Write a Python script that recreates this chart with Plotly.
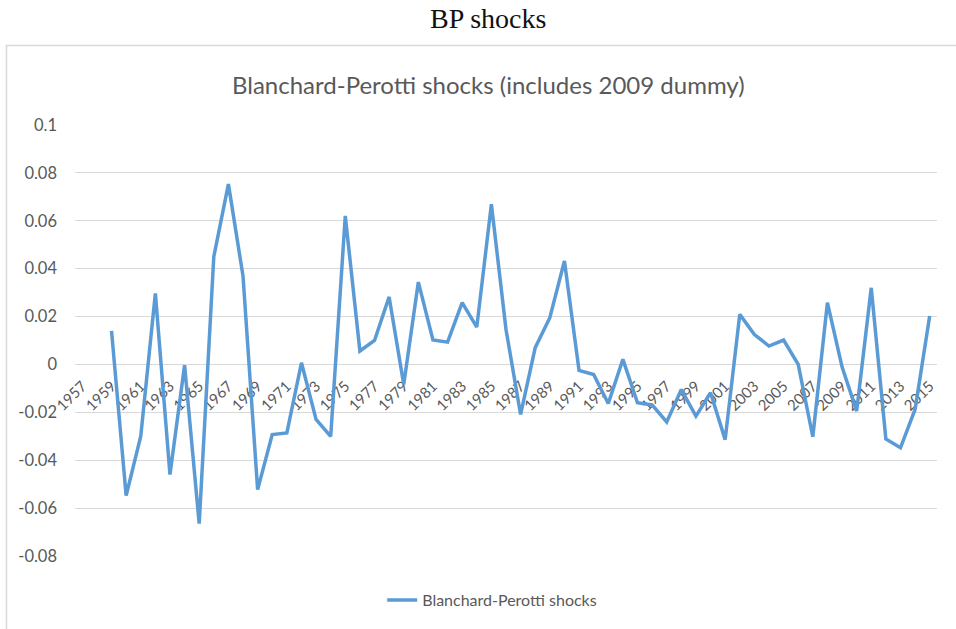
import plotly.graph_objects as go

# Category axis: every year from 1957 to 2015
categories = [1957, 1958, 1959, 1960, 1961, 1962, 1963, 1964, 1965, 1966,
              1967, 1968, 1969, 1970, 1971, 1972, 1973, 1974, 1975, 1976,
              1977, 1978, 1979, 1980, 1981, 1982, 1983, 1984, 1985, 1986,
              1987, 1988, 1989, 1990, 1991, 1992, 1993, 1994, 1995, 1996,
              1997, 1998, 1999, 2000, 2001, 2002, 2003, 2004, 2005, 2006,
              2007, 2008, 2009, 2010, 2011, 2012, 2013, 2014, 2015]

# Shock series (observations start in 1959)
shock_years = categories[2:]
shocks = [0.0140, -0.0548, -0.0300, 0.0297, -0.0460, -0.0003, -0.0665, 0.0450,
          0.0753, 0.0369, -0.0523, -0.0293, -0.0286, 0.0007, -0.0230, -0.0300,
          0.0620, 0.0056, 0.0100, 0.0282, -0.0084, 0.0344, 0.0102, 0.0093,
          0.0258, 0.0156, 0.0669, 0.0146, -0.0209, 0.0070, 0.0195, 0.0432,
          -0.0025, -0.0042, -0.0163, 0.0021, -0.0160, -0.0169, -0.0240, -0.0105,
          -0.0216, -0.0118, -0.0314, 0.0209, 0.0125, 0.0077, 0.0102, 0.0000,
          -0.0302, 0.0258, -0.0010, -0.0195, 0.0320, -0.0311, -0.0348, -0.0188,
          0.0202]

x_tick_years = categories[::2]
x_tick_labels = [str(y) for y in x_tick_years]
y_tick_values = [0.1, 0.08, 0.06, 0.04, 0.02, 0, -0.02, -0.04, -0.06, -0.08]
y_tick_labels = ["0.1", "0.08", "0.06", "0.04", "0.02", "0",
                 "-0.02", "-0.04", "-0.06", "-0.08"]

series_name = "Blanchard-Perotti shocks"
chart_title = "Blanchard-Perotti shocks (includes 2009 dummy)"
page_title = "BP shocks"

TEXT = "#595959"
GRID = "#d9d9d9"
BLUE = "#5b9bd5"
FONT = "Lato, 'Open Sans', sans-serif"

y_min, y_max = -0.08, 0.1

fig = go.Figure()
fig.add_trace(go.Scatter(
    x=shock_years, y=shocks, mode="lines", name=series_name,
    line=dict(color=BLUE, width=3.5),
))

# chart frame
fig.add_shape(type="rect", xref="paper", yref="paper",
              x0=-0.0795, x1=1.2, y0=-0.4, y1=1.1845,
              line=dict(color=GRID, width=1.5), fillcolor="rgba(0,0,0,0)",
              layer="below")

fig.add_annotation(text=page_title, xref="paper", yref="paper",
                   x=(488 - 75) / 862, y=(556 - 19) / 431,
                   showarrow=False, xanchor="center", yanchor="middle",
                   font=dict(family="'Liberation Serif', serif", size=28, color="#111111"))
fig.add_annotation(text=chart_title, xref="paper", yref="paper",
                   x=(488 - 75) / 862, y=(556 - 85) / 431,
                   showarrow=False, xanchor="center", yanchor="middle",
                   font=dict(family=FONT, size=24, color=TEXT))

fig.update_layout(
    width=956, height=629,
    margin=dict(l=75, r=19, t=125, b=73),
    paper_bgcolor="white", plot_bgcolor="white",
    font=dict(family=FONT, color=TEXT),
    showlegend=True,
    legend=dict(orientation="h", x=0.484, xanchor="center",
                y=(556 - 600) / 431, yanchor="middle",
                font=dict(size=16, color=TEXT), itemwidth=30,
                bgcolor="rgba(0,0,0,0)"),
    xaxis=dict(range=[1956.5, 2015.5], anchor="free",
               position=(0 - y_min) / (y_max - y_min),
               tickmode="array", tickvals=x_tick_years, ticktext=x_tick_labels,
               tickangle=-45, tickfont=dict(size=15, color=TEXT),
               ticklabelstandoff=9, layer="below traces",
               showgrid=False, zeroline=False, showline=False, ticks=""),
    yaxis=dict(range=[y_min, y_max], tickmode="array",
               tickvals=y_tick_values, ticktext=y_tick_labels,
               tickfont=dict(size=16.5, color=TEXT),
               showgrid=True, gridcolor=GRID, gridwidth=1.3,
               zeroline=False, showline=False, ticks="",
               ticklabelstandoff=17),
)

fig.write_html("out.html")
